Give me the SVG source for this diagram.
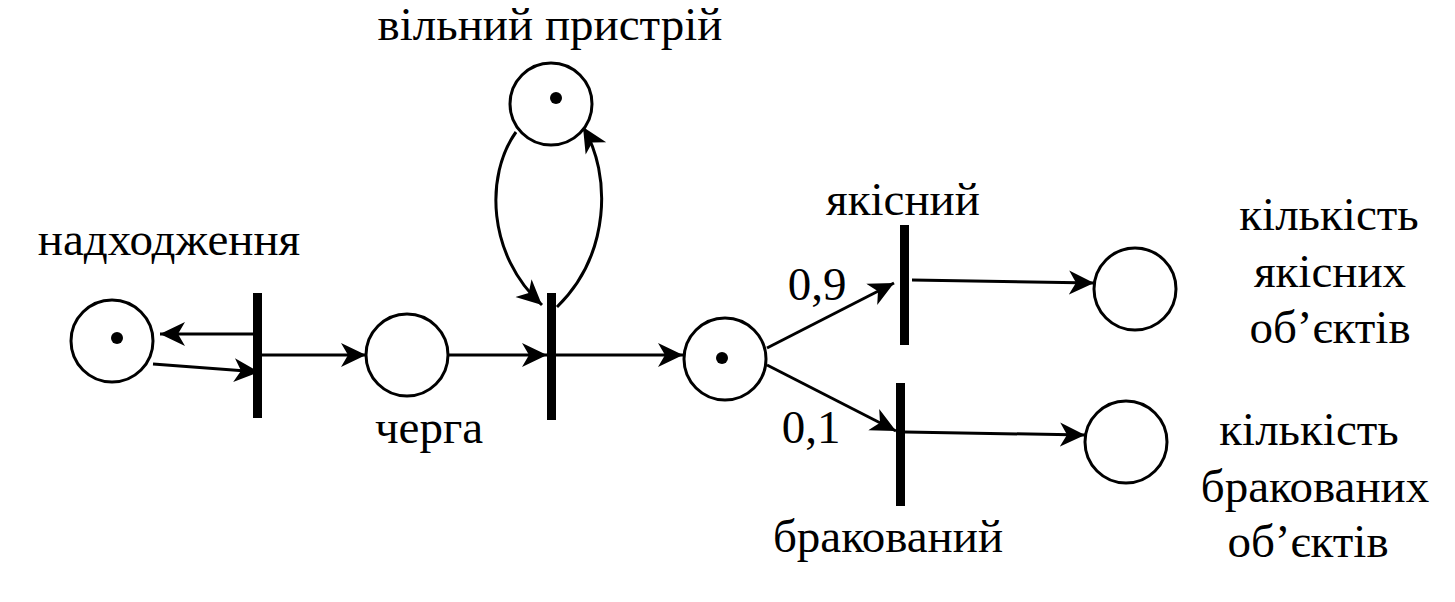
<svg xmlns="http://www.w3.org/2000/svg" width="1455" height="602" viewBox="0 0 1455 602">
<style>
text{font-family:'Times New Roman','Liberation Serif',Tinos,'DejaVu Serif','Noto Serif',serif;font-size:47px;fill:#000;text-anchor:middle}
.p{fill:#fff;stroke:#000;stroke-width:3}
.t{fill:#000}
.c{fill:none;stroke:#000;stroke-width:3;marker-end:url(#ah)}
</style>
<defs>
<marker id="ah" markerUnits="userSpaceOnUse" markerWidth="26" markerHeight="26" viewBox="0 0 26 26" refX="25" refY="13" orient="auto">
<path d="M0,1 L25,13 L0,25 L7,13 z" fill="#000"/>
</marker>
</defs>
<g id="connectors">
<line class="c" x1="253" y1="334" x2="160" y2="334"/>
<line class="c" x1="153" y1="364" x2="259" y2="372"/>
<line class="c" x1="262" y1="355" x2="366" y2="355"/>
<line class="c" x1="448" y1="355" x2="547" y2="355"/>
<line class="c" x1="556" y1="355" x2="683" y2="355"/>
<path class="c" d="M516,132 C485,175 487,255 542,305"/>
<path class="c" d="M557,307 C610,255 612,175 583,127"/>
<line class="c" x1="767" y1="348" x2="894" y2="283"/>
<line class="c" x1="767" y1="365" x2="896" y2="431"/>
<line class="c" x1="912" y1="280" x2="1094" y2="283"/>
<line class="c" x1="905" y1="432" x2="1085" y2="435"/>
</g>
<g id="p-nadkhodzhennia">
<circle class="p" cx="112" cy="341" r="41"/>
<circle class="t" cx="117" cy="338" r="6"/>
<text x="169" y="255">надходження</text>
</g>
<g id="t1"><rect class="t" x="253" y="293" width="9" height="125"/></g>
<g id="p-cherha">
<circle class="p" cx="407" cy="355" r="41"/>
<text x="429" y="443">черга</text>
</g>
<g id="t2"><rect class="t" x="547" y="293" width="9" height="127"/></g>
<g id="p-vilnyi">
<circle class="p" cx="551" cy="104" r="41"/>
<circle class="t" cx="556" cy="98" r="6"/>
<text x="550" y="40">вільний пристрій</text>
</g>
<g id="p-4">
<circle class="p" cx="725" cy="359" r="41"/>
<circle class="t" cx="722" cy="358" r="6"/>
</g>
<g id="t-yakisnyi">
<rect class="t" x="900" y="225" width="9" height="120"/>
<text x="903" y="215">якісний</text>
<text x="817" y="300">0,9</text>
</g>
<g id="t-brakovanyi">
<rect class="t" x="896" y="383" width="9" height="123"/>
<text x="888" y="552">бракований</text>
<text x="811" y="443">0,1</text>
</g>
<g id="p-yakisni">
<circle class="p" cx="1135" cy="289" r="41"/>
<text x="1329" y="230">кількість</text>
<text x="1330" y="287">якісних</text>
<text x="1330" y="343">об’єктів</text>
</g>
<g id="p-brakovani">
<circle class="p" cx="1126" cy="442" r="41"/>
<text x="1309" y="445">кількість</text>
<text x="1315" y="502">бракованих</text>
<text x="1308" y="557">об’єктів</text>
</g>
</svg>
